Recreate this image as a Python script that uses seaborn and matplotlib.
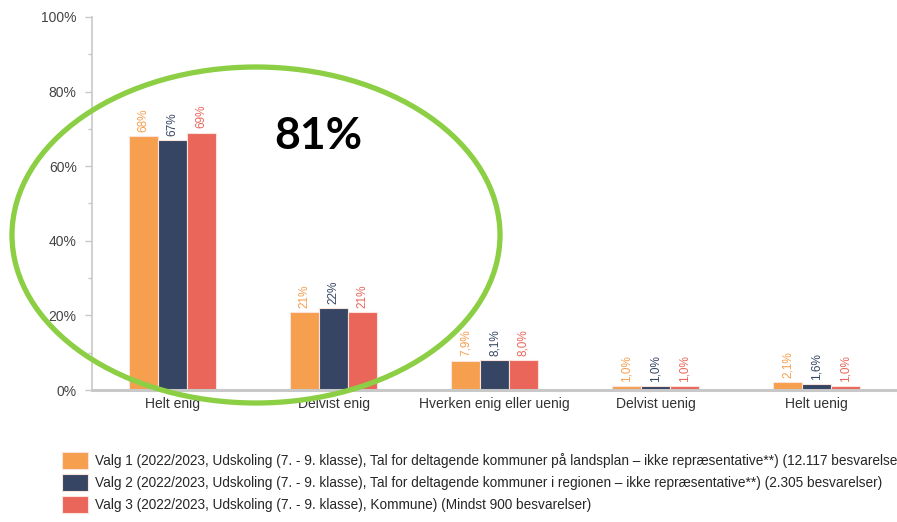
"""
Grupperet søjlediagram: svarfordeling for tre udvalg (udskoling 2022/2023)
"""
import pandas as pd
import numpy as np
import matplotlib
matplotlib.use("Agg")
import matplotlib.pyplot as plt
from matplotlib.patches import Ellipse
from matplotlib.ticker import MultipleLocator, FuncFormatter
import seaborn as sns

# data
categories = ["Helt enig", "Delvist enig", "Hverken enig eller uenig", "Delvist uenig", "Helt uenig"]
valg1 = [68, 21, 7.9, 1.0, 2.1]
valg2 = [67, 22, 8.1, 1.0, 1.6]
valg3 = [69, 21, 8.0, 1.0, 1.0]
series_labels = [
    "Valg 1 (2022/2023, Udskoling (7. - 9. klasse), Tal for deltagende kommuner på landsplan – ikke repræsentative**) (12.117 besvarelser)",
    "Valg 2 (2022/2023, Udskoling (7. - 9. klasse), Tal for deltagende kommuner i regionen – ikke repræsentative**) (2.305 besvarelser)",
    "Valg 3 (2022/2023, Udskoling (7. - 9. klasse), Kommune) (Mindst 900 besvarelser)",
]
colors = ["#F59F4F", "#364563", "#EA665A"]
highlight_text = "81%"

df = pd.DataFrame({
    "kategori": categories * 3,
    "andel": valg1 + valg2 + valg3,
    "valg": [series_labels[0]] * 5 + [series_labels[1]] * 5 + [series_labels[2]] * 5,
})

sns.set_style("white")
plt.rcParams["font.family"] = ["Liberation Sans", "DejaVu Sans"]

fig = plt.figure(figsize=(8.97, 5.22), dpi=100)
ax = fig.add_axes([92 / 897, 1 - 390 / 522, 805 / 897, 373 / 522])

sns.barplot(data=df, x="kategori", y="andel", hue="valg", order=categories,
            hue_order=series_labels, palette=colors, width=0.54, saturation=1,
            edgecolor="#fbe3dc", linewidth=0.8, ax=ax)

ax.set_xlim(-0.5, 4.5)
ax.set_ylim(0, 100)
ax.set_xlabel("")
ax.set_ylabel("")

# værdietiketter, lodret
def fmt_val(v):
    if v < 10:
        return f"{v:.1f}".replace(".", ",") + "%"
    return f"{v:.0f}%"

for cont, col in zip(ax.containers, colors):
    ax.bar_label(cont, labels=[fmt_val(b.get_height()) for b in cont],
                 rotation=90, padding=3, fontsize=8.5, color=col)

# akser
ax.yaxis.set_major_locator(MultipleLocator(20))
ax.yaxis.set_minor_locator(MultipleLocator(10))
ax.yaxis.set_major_formatter(FuncFormatter(lambda v, p: f"{v:.0f}%"))
ax.tick_params(axis="y", which="major", length=5, width=1, color="#c8c8c8",
               labelsize=10, labelcolor="#444444", pad=6, left=True)
ax.tick_params(axis="y", which="minor", length=3, width=1, color="#c8c8c8", left=True)
ax.tick_params(axis="x", length=0, labelsize=10, labelcolor="#333333", pad=5)
for s in ["top", "right"]:
    ax.spines[s].set_visible(False)
ax.spines["left"].set_color("#c8c8c8")
ax.spines["left"].set_linewidth(1.2)
ax.spines["bottom"].set_color("#c8c8c8")
ax.spines["bottom"].set_linewidth(2.2)

# forklaring nederst
handles, labels = ax.get_legend_handles_labels()
ax.get_legend().remove()
fig.legend(handles, labels, loc="upper left", bbox_to_anchor=(62 / 897, 1 - 452 / 522),
           frameon=False, fontsize=9.8, handlelength=1.9, handleheight=1.55,
           handletextpad=0.5, labelspacing=0.38, borderpad=0, borderaxespad=0)

# grøn markering og tekst
ell = Ellipse((256 / 897, 1 - 235 / 522), 488 / 897, 336 / 522, transform=fig.transFigure,
              fill=False, edgecolor="#8ccf45", linewidth=3.8, zorder=10)
fig.patches.append(ell)
fig.text(318 / 897, 1 - 136 / 522, highlight_text, ha="center", va="center",
         fontsize=32, fontweight="bold", color="black", family=["Lato", "DejaVu Sans"])

plt.savefig("out.png", dpi=100)
plt.close()
